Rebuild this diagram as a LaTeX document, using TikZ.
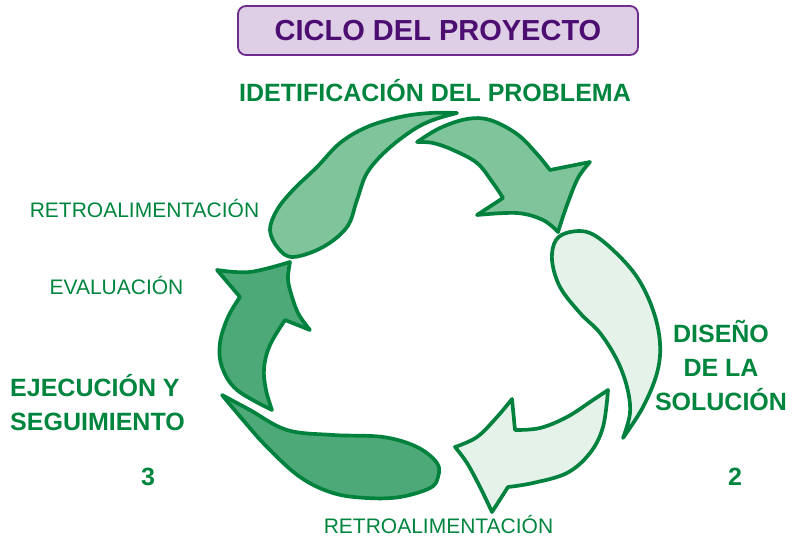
\documentclass[tikz,border=0pt]{standalone}
\usepackage{fontspec}
\setmainfont{Liberation Sans}
\definecolor{ogreen}{RGB}{0,130,62}
\definecolor{tgreen}{RGB}{0,133,62}
\definecolor{fmid}{RGB}{128,196,156}
\definecolor{flight}{RGB}{228,242,234}
\definecolor{fdark}{RGB}{77,170,120}
\definecolor{pfill}{RGB}{222,206,230}
\definecolor{pdraw}{RGB}{110,45,140}
\definecolor{ptext}{RGB}{76,14,112}
\tikzset{
  shapeline/.style={draw=ogreen, line width=3.7pt, line join=round},
  bigtext/.style={text=tgreen, font=\fontsize{25}{34}\selectfont\bfseries, inner sep=0pt, align=center},
  smalltext/.style={text=tgreen, font=\fontsize{21}{25}\selectfont, inner sep=0pt},
}
\begin{document}
\begin{tikzpicture}[x=1pt,y=-1pt]
\useasboundingbox (0,0) rectangle (792,536);
% title
\node[draw=pdraw, fill=pfill, line width=1.8pt, rounded corners=8pt, minimum width=400pt, minimum height=49pt, inner sep=0pt, text=ptext, font=\fontsize{29}{34}\selectfont\bfseries] (title) at (438,30.5) {CICLO DEL PROYECTO};

% 1 top-left teardrop
\draw[shapeline, fill=fmid] plot[smooth, tension=0.6] coordinates {(457,113) (430,113) (400,117) (367,127) (340,143) (317,167) (293,190) (277,210) (270,230) (278,248) (293,257) (323,247) (347,227) (357,200) (367,173) (387,150) (413,130) (433,120) (457,113)} -- cycle;

% 2 top-right arrow
\draw[shapeline, fill=fmid] plot[smooth, tension=0.6] coordinates {(417,142) (440,128) (467,119) (490,120) (517,134) (537,154) (550,170)}
  -- (590,162)
  -- plot[smooth, tension=0.6] coordinates {(590,162) (578,178) (567,205) (558,232)}
  -- plot[smooth, tension=0.6] coordinates {(558,232) (543,220) (517,213) (477,215)}
  -- (503,198)
  -- plot[smooth, tension=0.6] coordinates {(503,198) (493,183) (477,163) (453,150) (433,143) (417,142)} -- cycle;

% 3 right teardrop
\draw[shapeline, fill=flight] plot[smooth, tension=0.6] coordinates {(623,438) (630,413) (627,387) (617,360) (600,333) (580,313) (560,287) (552,260) (556,240) (570,232) (590,233) (613,250) (637,277) (653,310) (660,343) (657,373) (643,407) (623,438)} -- cycle;

% 4 bottom-right arrow
\draw[shapeline, fill=flight] plot[smooth, tension=0.6] coordinates {(608,390) (593,400) (567,417) (540,428) (515,430)}
  -- (512,399)
  -- plot[smooth, tension=0.6] coordinates {(512,399) (497,417) (477,437) (455,447)}
  -- plot[smooth, tension=0.6] coordinates {(455,447) (467,463) (480,487) (492,512)}
  -- (508,487)
  -- plot[smooth, tension=0.6] coordinates {(508,487) (533,483) (567,473) (590,453) (603,427) (608,390)} -- cycle;

% 5 bottom teardrop
\draw[shapeline, fill=fdark] plot[smooth, tension=0.6] coordinates {(222,395) (250,410) (287,430) (333,435) (383,437) (417,447) (437,463) (438,477) (430,488) (400,497) (367,498) (333,493) (300,477) (267,447) (243,420) (222,395)} -- cycle;

% 6 left arrow
\draw[shapeline, fill=fdark] plot[smooth, tension=0.6] coordinates {(290,262) (250,272) (217,270)}
  -- (240,297)
  -- plot[smooth, tension=0.6] coordinates {(240,297) (228,317) (220,343) (222,367) (237,390) (272,410)}
  -- plot[smooth, tension=0.6] coordinates {(272,410) (266,390) (264,368) (270,345) (285,320)}
  -- (310,330)
  -- plot[smooth, tension=0.6] coordinates {(310,330) (298,313) (290,290) (288,277) (290,262)} -- cycle;

% texts
\node[bigtext] (ident) at (435,91) {IDETIFICACIÓN DEL PROBLEMA};
\node[smalltext] (retro1) at (144.5,208) {RETROALIMENTACIÓN};
\node[smalltext] (eval) at (116.5,285) {EVALUACIÓN};
\node[bigtext, align=left, anchor=west] (ejec) at (10,403) {EJECUCIÓN Y\\SEGUIMIENTO};
\node[bigtext] (three) at (148,477) {3};
\node[bigtext] (diseno) at (721,365) {DISEÑO\\DE LA\\SOLUCIÓN};
\node[bigtext] (two) at (735,477) {2};
\node[smalltext] (retro2) at (438.5,524) {RETROALIMENTACIÓN};
\end{tikzpicture}
\end{document}
